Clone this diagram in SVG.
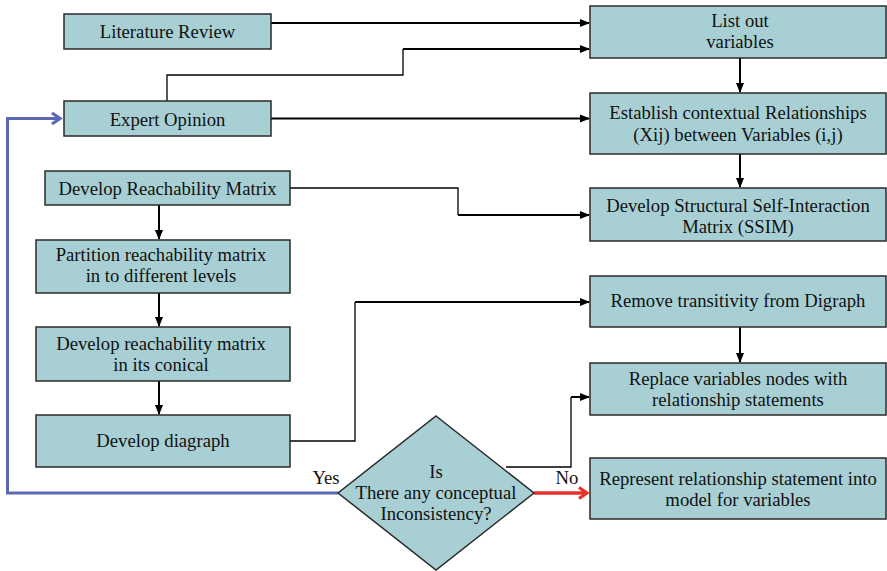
<svg xmlns="http://www.w3.org/2000/svg" width="887" height="571" viewBox="0 0 887 571">
  <defs>
    <marker id="arr" markerWidth="10" markerHeight="10" refX="9" refY="5" orient="auto" markerUnits="userSpaceOnUse">
      <path d="M0,1 L10,5 L0,9 Z" fill="#000"/>
    </marker>
    <marker id="blueHead" markerWidth="14" markerHeight="14" refX="11" refY="7" orient="auto" markerUnits="userSpaceOnUse">
      <path d="M3,1.5 L11,7 L3,12.5" fill="none" stroke="#5b68b3" stroke-width="3.2"/>
    </marker>
    <marker id="redHead" markerWidth="14" markerHeight="14" refX="11" refY="7" orient="auto" markerUnits="userSpaceOnUse">
      <path d="M3,1.5 L11,7 L3,12.5" fill="none" stroke="#e8302b" stroke-width="3.2"/>
    </marker>
  </defs>
  <style>
    .box { fill: #a8d0d4; stroke: #2a2a2a; stroke-width: 1.5; }
    .t { font-family: 'Liberation Serif', 'Times New Roman', serif; font-size: 18.7px; fill: #111; stroke: none; text-anchor: middle; }
    .c { fill: none; stroke: #000; stroke-width: 2; }
    .thin { fill: none; stroke: #000; stroke-width: 1.3; }
  </style>
  <rect width="887" height="571" fill="#fff"/>

  <!-- connectors: thick lines carry arrowheads, thin lines are routing legs -->
  <g id="connectors">
    <path class="c" d="M271,23 H589" marker-end="url(#arr)"/>
    <path class="thin" d="M167,101 V75 H403 V49"/>
    <path class="c" d="M403,49 H589" marker-end="url(#arr)"/>
    <path class="c" d="M271,118.5 H589" marker-end="url(#arr)"/>
    <path class="c" d="M740,58 V92" marker-end="url(#arr)"/>
    <path class="c" d="M740,154 V187" marker-end="url(#arr)"/>
    <path class="thin" d="M290,188 H458 V215"/>
    <path class="c" d="M458,215 H589" marker-end="url(#arr)"/>
    <path class="c" d="M159,205 V239" marker-end="url(#arr)"/>
    <path class="c" d="M159,293 V326" marker-end="url(#arr)"/>
    <path class="c" d="M159,381 V414" marker-end="url(#arr)"/>
    <path class="thin" d="M290,441 H355 V302"/>
    <path class="c" d="M355,302 H589" marker-end="url(#arr)"/>
    <path class="c" d="M740,327 V362" marker-end="url(#arr)"/>
    <path class="thin" d="M506,467 H571 V397"/>
    <path class="c" d="M571,397 H589" marker-end="url(#arr)"/>
    <path d="M338,493 H7.5 V118.5 H60" fill="none" stroke="#5b68b3" stroke-width="3" marker-end="url(#blueHead)"/>
    <path d="M534,493 H587" fill="none" stroke="#e8302b" stroke-width="3.5" marker-end="url(#redHead)"/>
    <text class="t" x="326" y="484">Yes</text>
    <text class="t" x="567" y="484">No</text>
  </g>

  <g id="literature-review">
    <rect class="box" x="64" y="14" width="207" height="35"/>
    <text class="t" x="167.5" y="38">Literature Review</text>
  </g>
  <g id="expert-opinion">
    <rect class="box" x="64" y="101" width="207" height="35"/>
    <text class="t" x="167.5" y="126">Expert Opinion</text>
  </g>
  <g id="list-variables">
    <rect class="box" x="590" y="6" width="296" height="52"/>
    <text class="t" x="740" y="27">List out</text>
    <text class="t" x="740" y="48">variables</text>
  </g>
  <g id="contextual-relationships">
    <rect class="box" x="590" y="93" width="296" height="61"/>
    <text class="t" x="738" y="119">Establish contextual Relationships</text>
    <text class="t" x="738" y="141">(Xij) between Variables (i,j)</text>
  </g>
  <g id="ssim">
    <rect class="box" x="590" y="188" width="296" height="53"/>
    <text class="t" x="738" y="212">Develop Structural Self-Interaction</text>
    <text class="t" x="738" y="233">Matrix (SSIM)</text>
  </g>
  <g id="remove-transitivity">
    <rect class="box" x="590" y="276" width="296" height="51"/>
    <text class="t" x="738" y="307">Remove transitivity from Digraph</text>
  </g>
  <g id="replace-nodes">
    <rect class="box" x="590" y="363" width="296" height="52"/>
    <text class="t" x="738" y="385">Replace variables nodes with</text>
    <text class="t" x="738" y="406">relationship statements</text>
  </g>
  <g id="represent-model">
    <rect class="box" x="590" y="458" width="296" height="61"/>
    <text class="t" x="738" y="485">Represent relationship statement into</text>
    <text class="t" x="738" y="506">model for variables</text>
  </g>
  <g id="reachability-matrix">
    <rect class="box" x="45" y="171" width="245" height="34"/>
    <text class="t" x="167.5" y="195">Develop Reachability Matrix</text>
  </g>
  <g id="partition">
    <rect class="box" x="36" y="240" width="254" height="53"/>
    <text class="t" x="161" y="261">Partition reachability matrix</text>
    <text class="t" x="161" y="282">in to different levels</text>
  </g>
  <g id="conical">
    <rect class="box" x="36" y="327" width="254" height="54"/>
    <text class="t" x="161" y="350">Develop reachability matrix</text>
    <text class="t" x="161" y="371">in its conical</text>
  </g>
  <g id="digraph">
    <rect class="box" x="36" y="415" width="254" height="52"/>
    <text class="t" x="163" y="447">Develop diagraph</text>
  </g>
  <g id="consistency-check">
    <path class="box" d="M436,416 L534,493 L436,570 L338,493 Z" stroke-width="1.2"/>
    <text class="t" x="436" y="478">Is</text>
    <text class="t" x="436" y="499">There any conceptual</text>
    <text class="t" x="436" y="520">Inconsistency?</text>
  </g>
</svg>
